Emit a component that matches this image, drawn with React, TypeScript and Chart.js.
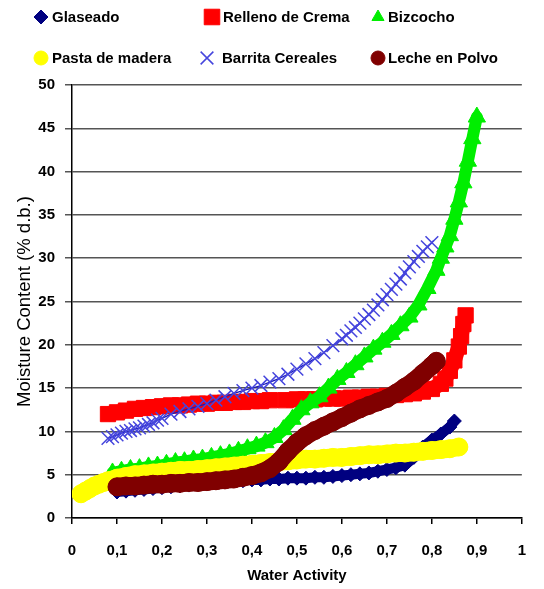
import React, { useEffect, useRef } from 'react';
import { Chart, registerables } from 'chart.js';
import { drawPoint } from 'chart.js/helpers';

Chart.register(...registerables);

const seriesLabels = ['Glaseado', 'Relleno de Crema', 'Bizcocho', 'Pasta de madera', 'Barrita Cereales', 'Leche en Polvo'];

const glaseadoAw = [0.10, 0.12, 0.14, 0.16, 0.18, 0.20, 0.22, 0.24, 0.26, 0.28, 0.30, 0.32, 0.34, 0.36, 0.38, 0.40, 0.42, 0.44, 0.46, 0.48, 0.50, 0.52, 0.54, 0.56, 0.58, 0.60, 0.62, 0.64, 0.66, 0.68, 0.70, 0.72, 0.74, 0.76, 0.78, 0.80, 0.82, 0.84, 0.85];
const glaseadoMc = [3.0, 3.1, 3.2, 3.3, 3.4, 3.5, 3.6, 3.7, 3.8, 3.9, 4.0, 4.1, 4.2, 4.3, 4.3, 4.4, 4.4, 4.5, 4.5, 4.6, 4.6, 4.6, 4.7, 4.7, 4.8, 4.9, 5.0, 5.1, 5.2, 5.4, 5.6, 5.8, 6.1, 7.0, 8.2, 9.0, 9.7, 10.5, 11.2];

const rellenoAw = [0.08, 0.10, 0.12, 0.14, 0.16, 0.18, 0.20, 0.22, 0.24, 0.26, 0.28, 0.30, 0.32, 0.34, 0.36, 0.38, 0.40, 0.42, 0.44, 0.475, 0.50, 0.52, 0.54, 0.56, 0.58, 0.60, 0.62, 0.64, 0.66, 0.68, 0.70, 0.72, 0.74, 0.76, 0.78, 0.80, 0.82, 0.83, 0.84, 0.85, 0.86, 0.865, 0.87, 0.875];
const rellenoMc = [12.0, 12.2, 12.4, 12.6, 12.7, 12.8, 12.9, 13.0, 13.0, 13.1, 13.2, 13.2, 13.3, 13.3, 13.4, 13.4, 13.5, 13.5, 13.6, 13.6, 13.7, 13.7, 13.7, 13.8, 13.8, 13.8, 13.9, 13.9, 14.0, 14.0, 14.1, 14.2, 14.3, 14.4, 14.6, 14.9, 15.5, 16.1, 17.0, 18.2, 19.8, 21.0, 22.4, 23.4];

const bizcochoAw = [0.09, 0.11, 0.13, 0.15, 0.17, 0.19, 0.21, 0.23, 0.25, 0.27, 0.29, 0.31, 0.33, 0.35, 0.37, 0.39, 0.41, 0.43, 0.45, 0.47, 0.49, 0.51, 0.53, 0.55, 0.57, 0.59, 0.61, 0.63, 0.65, 0.67, 0.69, 0.71, 0.73, 0.75, 0.77, 0.79, 0.81, 0.82, 0.83, 0.84, 0.85, 0.86, 0.87, 0.88, 0.89, 0.90];
const bizcochoMc = [5.2, 5.4, 5.6, 5.7, 5.9, 6.0, 6.2, 6.4, 6.5, 6.7, 6.8, 7.0, 7.2, 7.4, 7.7, 8.0, 8.3, 8.7, 9.3, 10.2, 11.4, 12.5, 13.3, 14.0, 15.0, 16.0, 16.8, 17.7, 18.6, 19.5, 20.3, 21.2, 22.2, 23.2, 24.6, 26.5, 28.6, 30.0, 31.3, 32.6, 34.5, 36.5, 38.7, 41.2, 43.8, 46.3];

const pastaAw = [0.02, 0.03, 0.04, 0.05, 0.06, 0.07, 0.08, 0.09, 0.10, 0.12, 0.14, 0.16, 0.18, 0.20, 0.22, 0.24, 0.26, 0.28, 0.30, 0.32, 0.34, 0.36, 0.38, 0.40, 0.42, 0.44, 0.46, 0.48, 0.50, 0.52, 0.54, 0.56, 0.58, 0.60, 0.62, 0.64, 0.66, 0.68, 0.70, 0.72, 0.74, 0.76, 0.78, 0.80, 0.82, 0.84, 0.86];
const pastaMc = [2.8, 3.1, 3.4, 3.7, 3.9, 4.1, 4.3, 4.4, 4.6, 4.8, 5.0, 5.1, 5.2, 5.3, 5.4, 5.5, 5.5, 5.6, 5.7, 5.8, 5.9, 6.0, 6.1, 6.2, 6.3, 6.4, 6.5, 6.6, 6.7, 6.8, 6.8, 6.9, 7.0, 7.0, 7.1, 7.2, 7.3, 7.3, 7.4, 7.5, 7.5, 7.6, 7.7, 7.8, 7.9, 8.0, 8.2];

const barritaAw = [0.08, 0.09, 0.10, 0.11, 0.12, 0.13, 0.14, 0.15, 0.16, 0.17, 0.18, 0.19, 0.20, 0.22, 0.24, 0.26, 0.28, 0.30, 0.32, 0.34, 0.36, 0.38, 0.40, 0.42, 0.44, 0.46, 0.48, 0.50, 0.52, 0.54, 0.56, 0.58, 0.60, 0.61, 0.62, 0.63, 0.64, 0.65, 0.66, 0.67, 0.68, 0.69, 0.70, 0.71, 0.72, 0.73, 0.74, 0.75, 0.76, 0.77, 0.78, 0.79, 0.80];
const barritaMc = [9.2, 9.4, 9.6, 9.8, 10.0, 10.1, 10.3, 10.4, 10.6, 10.8, 11.0, 11.3, 11.5, 12.0, 12.3, 12.6, 12.9, 13.2, 13.6, 14.0, 14.4, 14.7, 15.0, 15.3, 15.7, 16.1, 16.6, 17.2, 17.8, 18.4, 19.1, 19.9, 20.7, 21.1, 21.6, 22.0, 22.5, 23.0, 23.5, 24.0, 24.6, 25.2, 25.8, 26.4, 27.0, 27.6, 28.3, 29.0, 29.6, 30.2, 30.8, 31.3, 31.8];

const lecheAw = [0.10, 0.12, 0.14, 0.16, 0.18, 0.20, 0.22, 0.24, 0.26, 0.28, 0.30, 0.32, 0.34, 0.36, 0.38, 0.40, 0.42, 0.44, 0.46, 0.48, 0.50, 0.52, 0.54, 0.56, 0.58, 0.60, 0.62, 0.64, 0.66, 0.68, 0.70, 0.72, 0.74, 0.76, 0.78, 0.80, 0.81];
const lecheMc = [3.6, 3.7, 3.7, 3.8, 3.9, 3.9, 4.0, 4.0, 4.1, 4.1, 4.2, 4.3, 4.4, 4.5, 4.7, 4.9, 5.2, 5.7, 6.5, 7.7, 8.7, 9.5, 10.1, 10.6, 11.1, 11.6, 12.1, 12.6, 13.0, 13.4, 13.8, 14.4, 15.1, 15.8, 16.7, 17.6, 18.1];

const xTitle = 'Water Activity';
const yTitle = 'Moisture Content (% d.b.)';

const pts = (xs: number[], ys: number[]) => xs.map((x, i) => ({ x, y: ys[i] }));
const fmt = (v: number) => String(Math.round(v * 10) / 10).replace('.', ',');

// legend layout (style only)
const legendPos = [
  { mx: 41, tx: 52, y: 17, r: 7 },
  { mx: 212, tx: 223, y: 17, r: 11 },
  { mx: 378, tx: 388, y: 17, r: 7 },
  { mx: 41, tx: 52, y: 58, r: 7 },
  { mx: 207, tx: 222, y: 58, r: 9 },
  { mx: 378, tx: 388, y: 58, r: 7 },
];

const FONT = "'Liberation Sans', Arial, sans-serif";

const legendPlugin = {
  id: 'gridLegend',
  afterDraw(chart: any) {
    const ctx = chart.ctx;
    ctx.save();
    chart.data.datasets.forEach((ds: any, i: number) => {
      const p = legendPos[i];
      ctx.fillStyle = ds.pointBackgroundColor;
      ctx.strokeStyle = ds.pointBorderColor;
      ctx.lineWidth = ds.pointBorderWidth;
      drawPoint(ctx, { pointStyle: ds.pointStyle, radius: p.r, rotation: 0, borderWidth: ds.pointBorderWidth }, p.mx, p.y);
      ctx.fillStyle = '#000';
      ctx.font = `bold 15px ${FONT}`;
      ctx.textAlign = 'left';
      ctx.textBaseline = 'middle';
      ctx.fillText(ds.label, p.tx, p.y + 1);
    });
    ctx.restore();
  },
};

export default function App() {
  const ref = useRef<HTMLCanvasElement>(null);
  useEffect(() => {
    if (!ref.current) return;
    const mk = (i: number, data: any[], style: string, color: string, radius: number, band: number, order: number, extra: any = {}) => ({
      label: seriesLabels[i],
      data,
      pointStyle: style,
      pointBackgroundColor: color,
      pointBorderColor: color,
      pointBorderWidth: 1,
      pointRadius: radius,
      pointHoverRadius: radius,
      showLine: true,
      borderColor: color,
      borderWidth: band,
      borderCapStyle: 'round',
      borderJoinStyle: 'round',
      order,
      ...extra,
    });
    const chart = new Chart(ref.current, {
      type: 'scatter',
      data: {
        datasets: [
          mk(0, pts(glaseadoAw, glaseadoMc), 'rectRot', '#000080', 7, 10, 6),
          mk(1, pts(rellenoAw, rellenoMc), 'rect', '#FF0000', 10.8, 15, 5, {
            borderCapStyle: 'butt',
            segment: {
              borderColor: (c: any) => (c.p1.parsed.x - c.p0.parsed.x > 0.03 ? 'rgba(0,0,0,0)' : undefined),
            },
          }),
          mk(2, pts(bizcochoAw, bizcochoMc), 'triangle', '#00EE00', 10, 12, 4),
          mk(3, pts(pastaAw, pastaMc), 'circle', '#FFFF00', 9, 18, 3),
          mk(4, pts(barritaAw, barritaMc), 'crossRot', '#4545DD', 9, 1.3, 2, {
            borderColor: '#1A1AB8',
            pointBorderWidth: 1.5,
          }),
          mk(5, pts(lecheAw, lecheMc), 'circle', '#800000', 9, 18, 1),
        ],
      } as any,
      options: {
        animation: false,
        responsive: true,
        maintainAspectRatio: false,
        layout: { padding: { top: 85, right: 17, left: 0, bottom: 0 } },
        plugins: { legend: { display: false }, tooltip: { enabled: false } },
        scales: {
          x: {
            type: 'linear',
            min: 0,
            max: 1,
            afterFit: (s: any) => { s.height = 71; },
            ticks: {
              stepSize: 0.1,
              callback: (v: any) => fmt(Number(v)),
              color: '#000',
              font: { family: FONT, size: 15, weight: 'bold' },
              padding: 18,
              maxRotation: 0,
            },
            grid: { drawOnChartArea: false, drawTicks: true, tickLength: 6, color: '#000', lineWidth: 1.5 },
            border: { color: '#000', width: 1.5 },
            title: {
              display: true,
              text: xTitle,
              color: '#000',
              font: { family: FONT, size: 15, weight: 'bold' },
              padding: { top: 0, bottom: 4 },
            },
          },
          y: {
            min: 0,
            max: 50,
            afterFit: (s: any) => { s.width = 72; },
            ticks: {
              stepSize: 5,
              color: '#000',
              font: { family: FONT, size: 15, weight: 'bold' },
              padding: 10,
            },
            grid: { color: '#555', lineWidth: 1.5, tickLength: 7 },
            border: { color: '#000', width: 1.5 },
            title: {
              display: true,
              text: yTitle,
              color: '#000',
              font: { family: FONT, size: 18.5, weight: 'normal' },
              padding: { top: 14, bottom: 0 },
            },
          },
        },
      } as any,
      plugins: [legendPlugin],
    });
    return () => chart.destroy();
  }, []);
  return (
    <div style={{ position: 'absolute', left: 0, top: 0, width: 544, height: 589, background: '#fff' }}>
      <canvas ref={ref} />
    </div>
  );
}
